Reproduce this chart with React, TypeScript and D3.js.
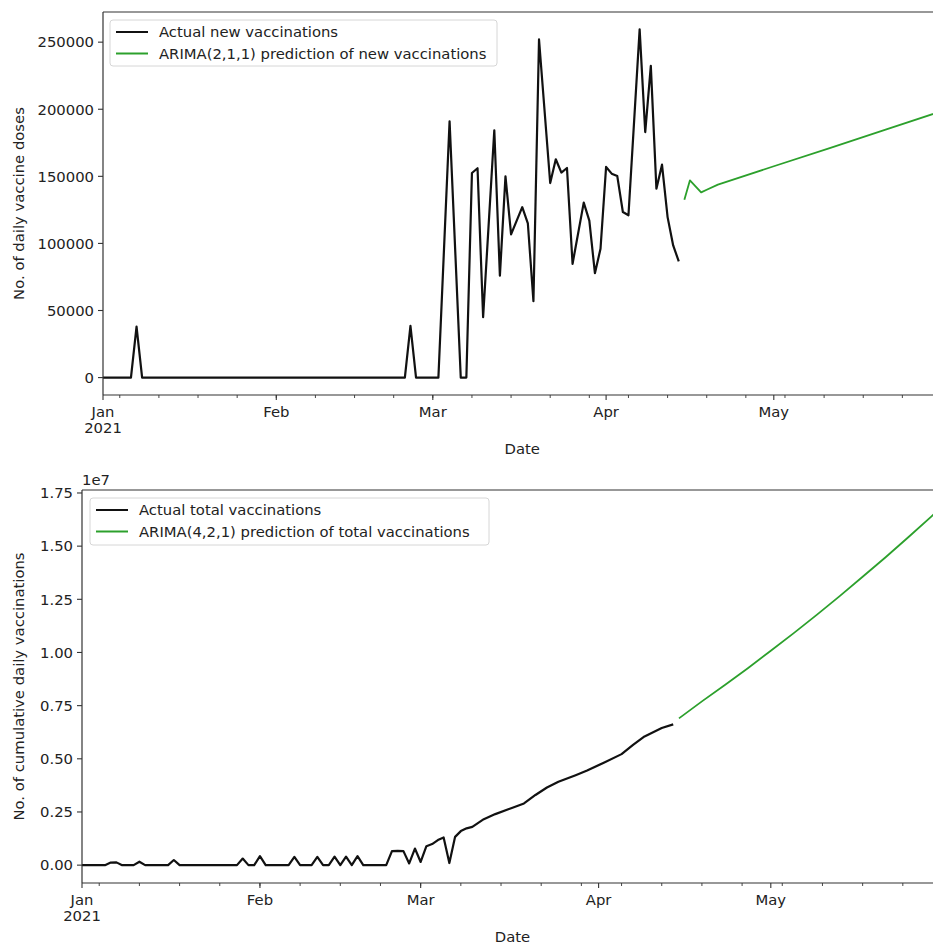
import React from 'react';
import * as d3 from 'd3';

const W = 933;
const H = 944;
const FONT = '"DejaVu Sans", Verdana, sans-serif';
const FS = 14.8;
const TEXT = '#222';
const ACTUAL = '#111';
const PRED = '#2ca02c';

// --- daily new vaccinations (actual) ---
const newDates = [
  '2021-01-01', '2021-01-06', '2021-01-07', '2021-01-08', '2021-02-24', '2021-02-25', '2021-02-26',
  '2021-03-02', '2021-03-04', '2021-03-06', '2021-03-07', '2021-03-08', '2021-03-09', '2021-03-10',
  '2021-03-12', '2021-03-13', '2021-03-14', '2021-03-15', '2021-03-17', '2021-03-18', '2021-03-19',
  '2021-03-20', '2021-03-22', '2021-03-23', '2021-03-24', '2021-03-25', '2021-03-26', '2021-03-28',
  '2021-03-29', '2021-03-30', '2021-03-31', '2021-04-01', '2021-04-02', '2021-04-03', '2021-04-04',
  '2021-04-05', '2021-04-07', '2021-04-08', '2021-04-09', '2021-04-10', '2021-04-11', '2021-04-12',
  '2021-04-13', '2021-04-14',
];
const newValues = [
  0, 0, 38000, 0, 0, 38500, 0,
  0, 191000, 0, 0, 152500, 156000, 45000,
  184300, 76000, 150000, 106700, 127000, 115000, 57000,
  252000, 145000, 162700, 152800, 156200, 84800, 130400,
  117000, 77800, 96000, 157000, 152000, 150200, 123400,
  121000, 259500, 183000, 232300, 140800, 158700, 119600,
  98500, 86600,
];

// --- ARIMA(2,1,1) prediction of new vaccinations ---
const newPredDates = [
  '2021-04-15', '2021-04-16', '2021-04-17', '2021-04-18', '2021-04-19', '2021-04-21',
  '2021-05-01', '2021-05-11', '2021-05-21', '2021-05-31',
];
const newPredValues = [132600, 147000, 142500, 138000, 140000, 143800, 157500, 171000, 184800, 198500];

// --- cumulative total vaccinations (actual) ---
const totalDates = [
  '2021-01-01', '2021-01-05', '2021-01-06', '2021-01-07', '2021-01-08', '2021-01-10', '2021-01-11',
  '2021-01-12', '2021-01-16', '2021-01-17', '2021-01-18', '2021-01-28', '2021-01-29', '2021-01-30',
  '2021-01-31', '2021-02-01', '2021-02-02', '2021-02-06', '2021-02-07', '2021-02-08', '2021-02-10',
  '2021-02-11', '2021-02-12', '2021-02-13', '2021-02-14', '2021-02-15', '2021-02-16', '2021-02-17',
  '2021-02-18', '2021-02-19', '2021-02-23', '2021-02-24', '2021-02-25', '2021-02-26', '2021-02-27',
  '2021-02-28', '2021-03-01', '2021-03-02', '2021-03-03', '2021-03-04', '2021-03-05', '2021-03-06',
  '2021-03-07', '2021-03-08', '2021-03-09', '2021-03-10', '2021-03-12', '2021-03-14', '2021-03-17',
  '2021-03-19', '2021-03-21', '2021-03-23', '2021-03-25', '2021-03-28', '2021-03-30', '2021-04-02',
  '2021-04-05', '2021-04-07', '2021-04-09', '2021-04-12', '2021-04-14',
];
const totalValues = [
  0, 0, 120000, 130000, 0, 0, 160000,
  0, 0, 240000, 0, 0, 310000, 0,
  0, 420000, 0, 0, 390000, 0, 0,
  390000, 0, 0, 400000, 0, 400000, 0,
  420000, 0, 0, 660000, 670000, 660000, 80000,
  780000, 150000, 890000, 990000, 1180000, 1300000, 100000,
  1330000, 1600000, 1730000, 1800000, 2160000, 2400000, 2700000,
  2900000, 3300000, 3650000, 3920000, 4230000, 4450000, 4830000,
  5220000, 5650000, 6050000, 6450000, 6620000,
];

// --- ARIMA(4,2,1) prediction of total vaccinations ---
const totalPredDates = [
  '2021-04-15', '2021-04-19', '2021-04-23', '2021-04-27', '2021-05-01', '2021-05-05', '2021-05-09',
  '2021-05-13', '2021-05-17', '2021-05-21', '2021-05-25', '2021-05-29', '2021-05-31',
];
const totalPredValues = [
  6900000, 7700000, 8470000, 9260000, 10080000, 10910000, 11770000,
  12650000, 13560000, 14480000, 15430000, 16400000, 16900000,
];

// axis ticks
const monthTicks = ['2021-01-01', '2021-02-01', '2021-03-01', '2021-04-01', '2021-05-01'];
const monthLabels = ['Jan', 'Feb', 'Mar', 'Apr', 'May'];
const yearLabel = '2021';
const newYTicks = [0, 50000, 100000, 150000, 200000, 250000];
const totalYTicks = [0, 2500000, 5000000, 7500000, 10000000, 12500000, 15000000, 17500000];

const parse = (s: string) => new Date(s + 'T00:00:00Z');
const xStart = parse('2021-01-01');
const xEnd = parse('2021-05-31');

type PanelProps = {
  box: { left: number; right: number; top: number; bottom: number };
  yDomain: [number, number];
  yTicks: number[];
  yFmt: (v: number) => string;
  yLabel: string;
  sci?: string;
  actual: { dates: string[]; values: number[] };
  pred: { dates: string[]; values: number[] };
  legendLabels: [string, string];
  legendBox: { x: number; y: number; w: number; h: number };
};

const Panel = ({ box, yDomain, yTicks, yFmt, yLabel, sci, actual, pred, legendLabels, legendBox }: PanelProps) => {
  const x = d3.scaleUtc().domain([xStart, xEnd]).range([box.left, box.right]);
  const y = d3.scaleLinear().domain(yDomain).range([box.bottom, box.top]);
  const line = d3.line<[Date, number]>().x(d => x(d[0])).y(d => y(d[1]));
  const toPts = (ds: string[], vs: number[]) => ds.map((d, i) => [parse(d), vs[i]] as [Date, number]);
  const minor = d3.utcMonday.range(xStart, d3.utcDay.offset(xEnd, 1));
  const cx = (box.left + box.right) / 2;
  const cy = (box.top + box.bottom) / 2;

  return (
    <g fontFamily={FONT} fontSize={FS} fill={TEXT}>
      {/* lines */}
      <path d={line(toPts(actual.dates, actual.values)) || ''} fill="none" stroke={ACTUAL} strokeWidth={2.2} strokeLinejoin="round" />
      <path d={line(toPts(pred.dates, pred.values)) || ''} fill="none" stroke={PRED} strokeWidth={1.8} strokeLinejoin="round" />

      {/* spines */}
      <line x1={box.left} x2={box.right} y1={box.top} y2={box.top} stroke="#333" strokeWidth={1.2} />
      <line x1={box.left} x2={box.right} y1={box.bottom} y2={box.bottom} stroke="#333" strokeWidth={1.2} />
      <line x1={box.left} x2={box.left} y1={box.top} y2={box.bottom} stroke="#333" strokeWidth={1.2} />

      {/* y ticks */}
      {yTicks.map(t => (
        <g key={t}>
          <line x1={box.left - 5} x2={box.left} y1={y(t)} y2={y(t)} stroke="#333" strokeWidth={1.1} />
          <text x={box.left - 9} y={y(t)} dy="0.36em" textAnchor="end">{yFmt(t)}</text>
        </g>
      ))}
      {sci && <text x={box.left} y={box.top - 5}>{sci}</text>}

      {/* x minor ticks */}
      {minor.map(d => (
        <line key={d.toISOString()} x1={x(d)} x2={x(d)} y1={box.bottom} y2={box.bottom + 3} stroke="#333" strokeWidth={0.9} />
      ))}
      {/* x major ticks */}
      {monthTicks.map((m, i) => (
        <g key={m}>
          <line x1={x(parse(m))} x2={x(parse(m))} y1={box.bottom} y2={box.bottom + 5} stroke="#333" strokeWidth={1.1} />
          <text x={x(parse(m))} y={box.bottom + 22} textAnchor="middle">{monthLabels[i]}</text>
          {i === 0 && <text x={x(parse(m))} y={box.bottom + 38} textAnchor="middle">{yearLabel}</text>}
        </g>
      ))}

      {/* axis labels */}
      <text x={cx} y={box.bottom + 59} textAnchor="middle">Date</text>
      <text transform={`translate(19,${cy}) rotate(-90)`} dy="0.36em" textAnchor="middle">{yLabel}</text>

      {/* legend */}
      <rect x={legendBox.x} y={legendBox.y} width={legendBox.w} height={legendBox.h} rx={3} fill="#fff" fillOpacity={0.85} stroke="#d6d6d6" />
      {legendLabels.map((lab, i) => {
        const ly = legendBox.y + 12 + i * 21.5;
        return (
          <g key={lab}>
            <line x1={legendBox.x + 6} x2={legendBox.x + 38} y1={ly} y2={ly} stroke={i === 0 ? ACTUAL : PRED} strokeWidth={2} />
            <text x={legendBox.x + 49} y={ly} dy="0.36em">{lab}</text>
          </g>
        );
      })}
    </g>
  );
};

const App = () => {
  return (
    <svg width={W} height={H} style={{ position: 'absolute', left: 0, top: 0, background: '#fff' }}>
      <Panel
        box={{ left: 103, right: 941.5, top: 12, bottom: 395 }}
        yDomain={[-12975, 272475]}
        yTicks={newYTicks}
        yFmt={v => String(v)}
        yLabel="No. of daily vaccine doses"
        actual={{ dates: newDates, values: newValues }}
        pred={{ dates: newPredDates, values: newPredValues }}
        legendLabels={['Actual new vaccinations', 'ARIMA(2,1,1) prediction of new vaccinations']}
        legendBox={{ x: 110, y: 20, w: 387, h: 46 }}
      />
      <Panel
        box={{ left: 82, right: 943, top: 490, bottom: 883 }}
        yDomain={[-840000, 17640000]}
        yTicks={totalYTicks}
        yFmt={v => (v / 1e7).toFixed(2)}
        yLabel="No. of cumulative daily vaccinations"
        sci="1e7"
        actual={{ dates: totalDates, values: totalValues }}
        pred={{ dates: totalPredDates, values: totalPredValues }}
        legendLabels={['Actual total vaccinations', 'ARIMA(4,2,1) prediction of total vaccinations']}
        legendBox={{ x: 90, y: 498, w: 399, h: 47 }}
      />
    </svg>
  );
};

export default App;
